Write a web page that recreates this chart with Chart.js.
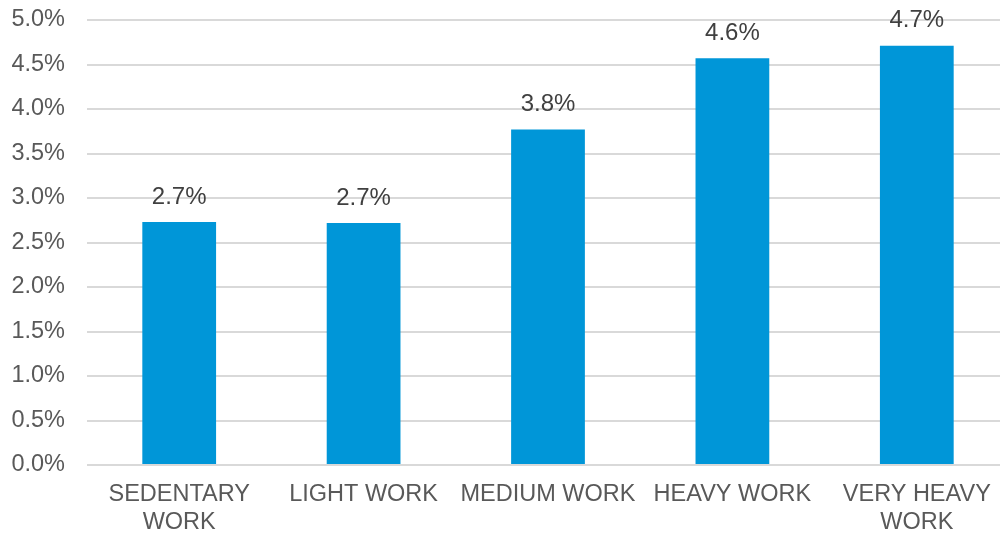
<!DOCTYPE html>
<html><head><meta charset="utf-8">
<script src="https://cdn.jsdelivr.net/npm/chart.js@4/dist/chart.umd.min.js"></script>
<style>html,body{margin:0;padding:0;background:#fff;overflow:hidden}#wrap{width:1000px;height:534px;overflow:hidden}</style>
</head><body><div id="wrap"><canvas id="c" width="1009" height="534"></canvas></div>
<script>
const categories = [["SEDENTARY","WORK"],"LIGHT WORK","MEDIUM WORK","HEAVY WORK",["VERY HEAVY","WORK"]];
const values = [2.73, 2.72, 3.77, 4.57, 4.71];
const yTicks = [0,0.5,1,1.5,2,2.5,3,3.5,4,4.5,5];
const FONT = "'Liberation Sans', Arial, sans-serif";

const labelPlugin = {
  id: 'barLabels',
  afterDatasetsDraw(chart) {
    const ctx = chart.ctx;
    const meta = chart.getDatasetMeta(0);
    ctx.save();
    ctx.font = "24px " + FONT;
    ctx.fillStyle = "#404040";
    ctx.textAlign = "center";
    ctx.textBaseline = "middle";
    meta.data.forEach((el, i) => {
      ctx.fillText(values[i].toFixed(1) + "%", el.x, el.y - 25);
    });
    ctx.restore();
  }
};

new Chart(document.getElementById('c'), {
  type: 'bar',
  data: { labels: categories, datasets: [{ data: values, backgroundColor: '#0096D8', borderWidth: 0, barPercentage: 0.4, categoryPercentage: 1 }] },
  options: {
    responsive: false, animation: false,
    layout: { padding: { top: 20, right: 0, left: 0, bottom: 0 } },
    plugins: { legend: { display: false }, tooltip: { enabled: false } },
    scales: {
      x: {
        grid: { display: false, drawTicks: false },
        border: { display: false },
        ticks: { color: '#595959', font: { size: 23.5, family: FONT, lineHeight: 1.15 }, padding: 16.5, maxRotation: 0, autoSkip: false },
        afterFit(s) { s.height = 69; }
      },
      y: {
        min: 0, max: 5,
        afterBuildTicks(s) { s.ticks = yTicks.map(v => ({ value: v })); },
        grid: { color: '#D9D9D9', lineWidth: 2, drawTicks: true, tickLength: 22, tickColor: 'rgba(0,0,0,0)' },
        border: { display: false },
        ticks: { color: '#595959', font: { size: 23.5, family: FONT }, padding: 0, callback: v => v.toFixed(1) + '%' },
        afterFit(s) { s.width = 87; }
      }
    }
  },
  plugins: [labelPlugin]
});
</script></body></html>
